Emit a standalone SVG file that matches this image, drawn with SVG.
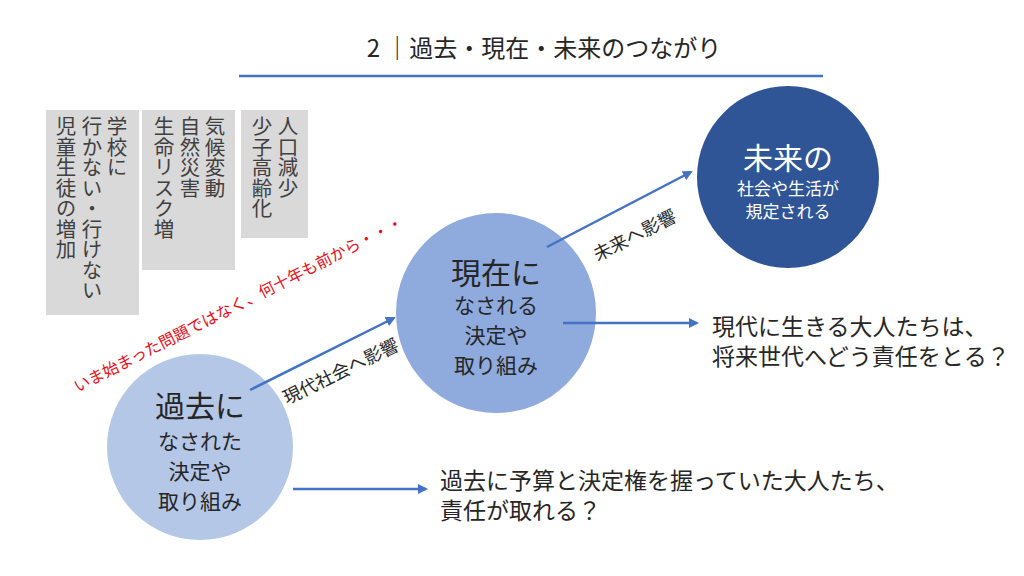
<svg xmlns="http://www.w3.org/2000/svg" width="1024" height="576" viewBox="0 0 1024 576">
<style>
text{font-family:"Noto Sans CJK JP","Noto Sans",sans-serif;fill:#262626}
.vt{writing-mode:vertical-rl;font-size:20.5px;fill:#404040}
.box{fill:#D9D9D9}
.c1{fill:#262626;font-size:21px;text-anchor:middle;dominant-baseline:central}
.big{font-size:30px}
.lbl{font-size:18px;text-anchor:middle;dominant-baseline:central}
.rt{font-size:23px}
.conn{stroke:#4472C4;stroke-width:2.5;fill:none;marker-end:url(#ah)}
</style>
<defs>
<marker id="ah" viewBox="0 0 10 10" refX="8" refY="5" markerWidth="4" markerHeight="4" orient="auto" markerUnits="strokeWidth">
<path d="M0,0 L10,5 L0,10 z" fill="#4472C4"/>
</marker>
</defs>
<rect width="1024" height="576" fill="#FFFFFF"/>
<g id="title">
<text x="544" y="57" font-size="24" text-anchor="middle">2 ｜過去・現在・未来のつながり</text>
<line x1="239" y1="76" x2="823" y2="76" stroke="#4472C4" stroke-width="2.5"/>
</g>
<g id="box-school">
<rect class="box" x="46" y="110" width="93" height="205"/>
<text class="vt" x="117" y="116">学校に</text>
<text class="vt" x="92" y="116">行かない・行けない</text>
<text class="vt" x="66" y="116">児童生徒の増加</text>
</g>
<g id="box-climate">
<rect class="box" x="142" y="110" width="93" height="160"/>
<text class="vt" x="215" y="116">気候変動</text>
<text class="vt" x="190" y="116">自然災害</text>
<text class="vt" x="164" y="116">生命リスク増</text>
</g>
<g id="box-population">
<rect class="box" x="241" y="110" width="67" height="128"/>
<text class="vt" x="288" y="116">人口減少</text>
<text class="vt" x="262" y="116">少子高齢化</text>
</g>
<g id="note">
<text x="238" y="303" font-size="16" text-anchor="middle" dominant-baseline="central" transform="rotate(-27 238 303)" style="fill:#E8101A">いま始まった問題ではなく、何十年も前から・・・</text>
</g>
<g id="past">
<circle cx="200" cy="447" r="93" fill="#B4C7E7"/>
<text class="c1 big" x="200" y="404">過去に</text>
<text class="c1" x="200" y="440">なされた</text>
<text class="c1" x="200" y="470">決定や</text>
<text class="c1" x="200" y="500">取り組み</text>
</g>
<g id="present">
<circle cx="496" cy="313" r="100" fill="#8FAADC"/>
<text class="c1 big" x="496" y="271">現在に</text>
<text class="c1" x="496" y="304">なされる</text>
<text class="c1" x="496" y="334">決定や</text>
<text class="c1" x="496" y="364">取り組み</text>
</g>
<g id="future">
<circle cx="788" cy="177" r="91" fill="#2F5597"/>
<text class="c1 big" x="788" y="156" style="fill:#FFFFFF">未来の</text>
<text class="c1" x="788" y="187" style="fill:#FFFFFF;font-size:17px">社会や生活が</text>
<text class="c1" x="788" y="210" style="fill:#FFFFFF;font-size:17px">規定される</text>
</g>
<g id="q-present">
<text class="rt" x="712" y="335">現代に生きる大人たちは、</text>
<text class="rt" x="712" y="365">将来世代へどう責任をとる？</text>
</g>
<g id="q-past">
<text class="rt" x="440" y="489">過去に予算と決定権を握っていた大人たち、</text>
<text class="rt" x="440" y="519">責任が取れる？</text>
</g>
<g id="connectors">
<line class="conn" x1="250" y1="390" x2="394" y2="318"/>
<line class="conn" x1="547" y1="247" x2="691" y2="172"/>
<line class="conn" x1="563" y1="323" x2="697" y2="323"/>
<line class="conn" x1="293" y1="489" x2="426" y2="489"/>
<text class="lbl" x="340" y="370" transform="rotate(-26 340 370)">現代社会へ影響</text>
<text class="lbl" x="634" y="234" transform="rotate(-27 634 234)">未来へ影響</text>
</g>
</svg>
